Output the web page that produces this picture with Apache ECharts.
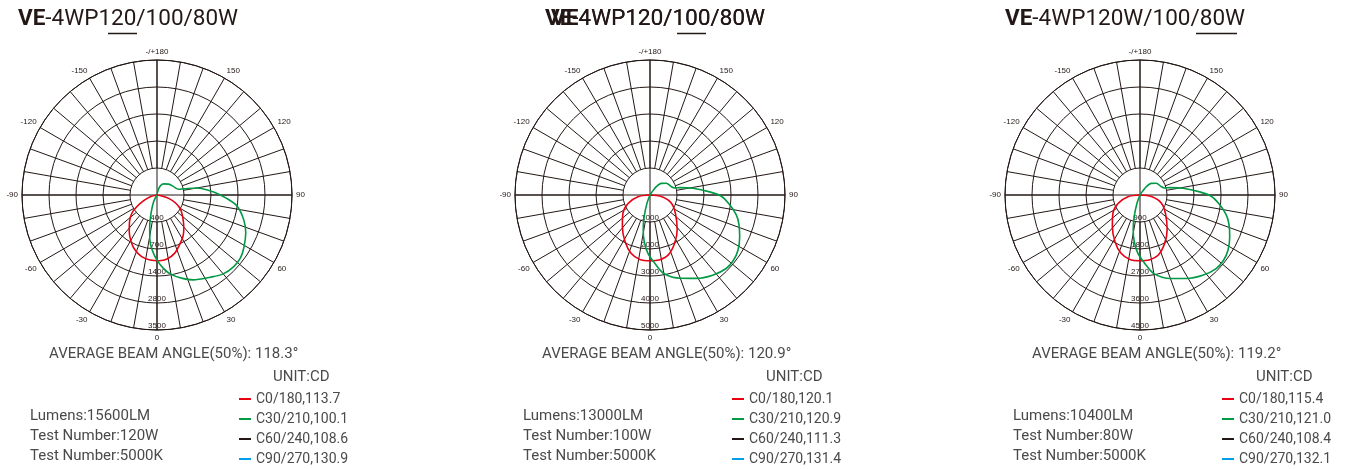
<!DOCTYPE html>
<html>
<head>
<meta charset="utf-8">
<script src="https://cdn.jsdelivr.net/npm/echarts@6/dist/echarts.min.js"></script>
<style>
  html, body { margin: 0; padding: 0; background: #fff; }
  #chart { width: 1352px; height: 469px; }
</style>
</head>
<body>
<div id="chart"></div>
<script>
// angle 0 points down, +90 right, -90 left
const angleTicks = [0, 30, 60, 90, 120, 150, 180, 210, 240, 270, 300, 330]
const angleText = ['0', '30', '60', '90', '120', '150', '-/+180', '-150', '-120', '-90', '-60', '-30']

const radiusMax = [3500, 5000, 4500]
const radiusText = [
  ['400', '700', '1400', '2800', '3500'],
  ['1000', '2000', '3000', '4000', '5000'],
  ['900', '1800', '2700', '3600', '4500']
]

// 120W
const redAngle120 = [-90, -76, -67, -60, -54, -46, -37, -29, -22, -14, -6, 2, 9, 17, 24, 32, 39, 48, 59, 67, 74, 79, 90]
const red120 = [0, 180, 375, 600, 805, 990, 1195, 1385, 1530, 1645, 1695, 1705, 1680, 1575, 1425, 1270, 1105, 905, 710, 515, 315, 130, 0]
const greenAngle120 = [-30, -27, -18, -13, -9, -5, 0, 5, 10, 17, 23, 33, 40, 47, 53, 59, 67, 74, 82, 87, 93, 100, 103, 105, 117, 133, 149, 162, 175]
const green120 = [0, 190, 500, 840, 1180, 1430, 1690, 1910, 2090, 2260, 2390, 2540, 2670, 2720, 2710, 2630, 2500, 2340, 2100, 1820, 1470, 1050, 710, 580, 480, 415, 335, 225, 40]

// 100W
const redAngle100 = [-90, -82, -69, -56, -41, -28, -18, -9, 0, 8, 17, 27, 38, 54, 69, 82, 90]
const red100 = [0, 450, 870, 1210, 1560, 1965, 2270, 2415, 2435, 2430, 2320, 2010, 1635, 1165, 850, 425, 0]
const greenAngle100 = [-25, -20, -15, -11, -7, -2, 4, 10, 20, 29, 38, 46, 52, 58, 65, 72, 77, 83, 89, 93, 99, 104, 106, 111, 126, 136, 143, 146, 170]
const green100 = [0, 330, 835, 1320, 1745, 2165, 2535, 2950, 3280, 3530, 3770, 3920, 3925, 3845, 3665, 3460, 3280, 2975, 2640, 2215, 1610, 1135, 950, 850, 745, 600, 385, 150, 0]

// 80W
const redAngle80 = [-90, -82, -69, -56, -41, -28, -18, -9, 0, 8, 17, 27, 38, 54, 69, 82, 90]
const red80 = [0, 405, 785, 1090, 1405, 1770, 2045, 2175, 2190, 2185, 2090, 1810, 1470, 1050, 765, 385, 0]
const greenAngle80 = [-25, -20, -15, -11, -7, -2, 4, 10, 20, 29, 38, 46, 52, 58, 65, 72, 77, 83, 89, 93, 99, 104, 106, 111, 126, 136, 143, 146, 170]
const green80 = [0, 300, 750, 1190, 1570, 1950, 2285, 2660, 2960, 3180, 3395, 3530, 3535, 3460, 3300, 3115, 2950, 2680, 2375, 1995, 1450, 1020, 855, 765, 670, 540, 345, 135, 0]

const legendNames = [
  ['C0/180,113.7', 'C30/210,100.1', 'C60/240,108.6', 'C90/270,130.9'],
  ['C0/180,120.1', 'C30/210,120.9', 'C60/240,111.3', 'C90/270,131.4'],
  ['C0/180,115.4', 'C30/210,121.0', 'C60/240,108.4', 'C90/270,132.1']
]
const beamAngle = ['118.3', '120.9', '119.2']
const lumens = ['15600', '13000', '10400']
const watts = ['120W', '100W', '80W']
const colorTemp = '5000K'

const curves = [
  [[redAngle120, red120], [greenAngle120, green120]],
  [[redAngle100, red100], [greenAngle100, green100]],
  [[redAngle80, red80], [greenAngle80, green80]]
]
const lineColors = ['#e60012', '#009944', '#231815', '#00a0e9']

const centers = [157, 650, 1140]
const cy = 195
const R = 135
const ink = '#231815'
const grey = '#4a4a4a'
const font = 'Roboto'

let polar = [], angleAxis = [], radiusAxis = [], series = [], title = [], legend = []

centers.forEach(function (cx, k) {
  // rings, cross and outer circle
  polar.push({center: [cx, cy], radius: [0, R]})
  angleAxis.push({
    polarIndex: 2 * k, type: 'value', min: 0, max: 360, interval: 90,
    startAngle: 270, clockwise: false,
    axisLine: {lineStyle: {color: ink, width: 1}},
    axisTick: {show: false},
    axisLabel: {show: false},
    splitLine: {lineStyle: {color: ink, width: 1}}
  })
  radiusAxis.push({
    polarIndex: 2 * k, type: 'value', min: 0, max: radiusMax[k], interval: radiusMax[k] / 5,
    axisLine: {show: false},
    axisTick: {show: false},
    axisLabel: {
      margin: 0, align: 'center', verticalAlign: 'bottom', fontSize: 8,
      color: ink, fontFamily: 'Liberation Sans',
      formatter: function (v) {
        let i = Math.round(v / (radiusMax[k] / 5)) - 1
        return i >= 0 ? radiusText[k][i] : ''
      }
    },
    splitLine: {lineStyle: {color: ink, width: 1}}
  })
  // spokes every 10 deg starting at the inner ring
  polar.push({center: [cx, cy], radius: [R / 5, R]})
  angleAxis.push({
    polarIndex: 2 * k + 1, type: 'value', min: 0, max: 360, interval: 10,
    startAngle: 270, clockwise: false,
    axisLine: {show: false},
    axisTick: {show: false},
    axisLabel: {
      margin: 4, fontSize: 8, color: ink, fontFamily: 'Liberation Sans',
      formatter: function (v) {
        let i = angleTicks.indexOf(v)
        return i >= 0 ? angleText[i] : ''
      }
    },
    splitLine: {lineStyle: {color: ink, width: 1}}
  })
  radiusAxis.push({polarIndex: 2 * k + 1, type: 'value', min: 0, max: 1, show: false})

  legendNames[k].forEach(function (name, j) {
    let c = curves[k][j]
    series.push({
      type: 'line', name: name, coordinateSystem: 'polar', polarIndex: 2 * k,
      data: c ? c[1].map(function (v, i) { return [v, (c[0][i] + 360) % 360] }) : [],
      smooth: 0.3, symbol: 'none', silent: true,
      lineStyle: {color: lineColors[j], width: 1.6},
      itemStyle: {color: lineColors[j]}
    })
  })

  legend.push({
    data: legendNames[k], orient: 'vertical', left: cx + 82, top: 392,
    padding: 0, itemWidth: 12, itemHeight: 2, itemGap: 6, icon: 'rect',
    selectedMode: false,
    textStyle: {fontSize: 14, lineHeight: 14, color: grey, fontFamily: font}
  })

  title.push({
    text: 'AVERAGE BEAM ANGLE(50%): ' + beamAngle[k] + '°', left: cx - 108, top: 347, padding: 0,
    textStyle: {fontSize: 15, fontWeight: 'normal', color: grey, fontFamily: font}
  })
  title.push({
    text: 'UNIT:CD', left: cx + 116, top: 370, padding: 0,
    textStyle: {fontSize: 15, fontWeight: 'normal', color: grey, fontFamily: font}
  })
  title.push({
    text: 'Lumens:' + lumens[k] + 'LM\nTest Number:' + watts[k] + '\nTest Number:' + colorTemp,
    left: cx - 127, top: 406, padding: 0,
    textStyle: {fontSize: 15, lineHeight: 20, fontWeight: 'normal', color: grey, fontFamily: font}
  })
})

const headStyle = {
  fontSize: 22.5, fontWeight: 'normal', color: ink, fontFamily: font,
  rich: {b: {fontSize: 22.5, fontWeight: 'bold', color: ink, fontFamily: font}}
}
title.push({text: '{b|VE}-4WP120/100/80W', left: 18, top: 8, padding: 0, textStyle: headStyle})
title.push({text: '{b|VE}-4WP120/100/80W', left: 545, top: 8, padding: 0, textStyle: headStyle})
title.push({text: '{b|VE}4WP120/100/80W', left: 551, top: 8, padding: 0, textStyle: headStyle})
title.push({text: '{b|VE}-4WP120W/100/80W', left: 1005, top: 8, padding: 0, textStyle: headStyle})

let option = {
  animation: false,
  backgroundColor: '#fff',
  title: title,
  legend: legend,
  polar: polar,
  angleAxis: angleAxis,
  radiusAxis: radiusAxis,
  series: series,
  graphic: [
    {type: 'line', shape: {x1: 108, y1: 33.5, x2: 137, y2: 33.5}, style: {stroke: ink, lineWidth: 1.5}},
    {type: 'line', shape: {x1: 677, y1: 33.5, x2: 706, y2: 33.5}, style: {stroke: ink, lineWidth: 1.5}},
    {type: 'line', shape: {x1: 1196, y1: 33.5, x2: 1237, y2: 33.5}, style: {stroke: ink, lineWidth: 1.5}}
  ]
}
echarts.init(document.getElementById('chart')).setOption(option)
</script>
</body>
</html>
